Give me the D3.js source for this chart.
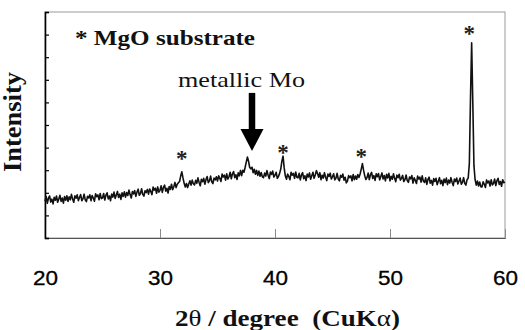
<!DOCTYPE html>
<html><head><meta charset="utf-8">
<script src="https://cdn.jsdelivr.net/npm/d3@7"></script>
<style>html,body{margin:0;padding:0;background:#fff;} svg{display:block;}</style>
</head><body>
<script>
// XRD scan: 2θ from 20° to 60°, step 0.1°
const scanStart = 20, scanStep = 0.1;
const intensity = [
16.3,18.3,15.4,17.6,18.6,15.9,17.2,15.1,18.0,16.7,
18.6,15.8,17.3,18.9,16.2,17.7,15.4,18.3,16.7,18.7,
16.2,18.2,16.9,19.3,17.3,15.8,18.7,17.6,19.1,16.5,
17.9,19.2,16.5,17.3,19.4,16.9,16.1,18.5,17.7,19.1,
16.5,18.8,17.7,16.3,19.6,18.3,19.1,16.9,19.7,17.4,
17.7,19.7,16.8,19.0,20.0,17.3,18.6,16.5,19.4,18.1,
20.3,17.5,19.0,20.6,17.9,19.4,17.1,20.0,18.4,20.4,
18.1,20.1,18.8,21.2,19.2,17.7,20.6,19.5,21.0,18.4,
20.3,21.6,18.9,19.7,21.8,19.3,18.5,20.9,20.1,21.5,
19.4,21.7,20.6,19.2,22.5,21.2,22.0,19.8,22.6,20.3,
21.1,23.1,20.2,22.4,23.4,20.7,22.0,19.9,22.8,21.5,
23.8,21.4,22.7,24.6,22.3,23.8,24.4,25.0,27.4,29.3,
26.6,24.2,22.6,24.1,22.3,23.9,25.3,23.4,25.6,24.0,
23.5,25.5,24.2,26.6,24.6,23.1,26.0,24.9,26.4,23.8,
25.9,27.2,24.5,25.3,27.4,24.9,24.1,26.5,25.7,27.1,
25.2,27.5,26.4,25.0,28.3,27.0,27.8,25.6,28.4,26.1,
27.1,29.1,26.2,28.4,29.4,26.7,28.0,25.9,28.8,27.5,
29.9,27.6,30.0,29.1,31.2,33.6,35.8,34.0,31.2,30.6,
31.3,28.9,30.4,28.2,29.9,27.7,29.6,27.3,29.0,27.1,
26.7,28.7,27.4,29.8,27.8,26.3,29.2,28.1,29.6,27.0,
27.8,29.1,26.4,27.2,28.6,30.5,34.0,36.2,31.0,27.4,
26.0,28.3,27.2,25.8,29.1,27.8,28.6,26.4,29.2,26.9,
26.6,28.6,25.7,27.9,28.9,26.2,27.5,25.4,28.3,27.0,
28.8,26.0,27.5,29.1,26.4,27.9,29.8,28.5,26.9,28.9,
25.8,27.8,26.5,28.9,26.9,25.4,28.3,27.2,28.7,26.1,
27.1,28.4,25.7,26.5,28.6,26.1,25.3,27.7,26.9,28.3,
25.6,26.9,24.4,25.2,27.6,26.7,27.5,25.3,28.1,25.8,
27.4,26.0,28.1,26.8,28.3,30.5,32.9,30.0,27.6,25.9,
26.7,28.7,25.8,28.0,29.0,26.3,27.6,25.5,28.4,27.1,
28.5,25.7,27.2,28.8,26.1,27.6,25.3,28.2,26.6,28.6,
25.3,27.3,26.0,28.4,26.4,24.9,27.8,26.7,28.2,25.6,
26.4,27.7,25.0,25.8,27.9,25.4,24.6,27.0,26.2,27.6,
24.3,26.6,25.5,24.1,27.4,26.1,26.9,24.7,27.5,25.2,
24.6,26.6,23.7,25.9,26.9,24.2,25.5,23.4,26.3,25.0,
26.4,23.6,25.1,26.7,24.0,25.5,23.2,26.1,24.5,26.5,
23.6,25.6,24.3,26.7,24.7,23.2,26.1,25.0,26.5,23.9,
25.2,26.5,23.8,24.6,26.7,24.2,23.4,25.8,26.5,33.0,
62.0,86.4,60.0,32.0,25.8,23.4,25.2,23.0,24.8,22.7,
22.6,24.9,23.8,22.4,25.7,24.4,25.2,23.0,25.8,23.5,
24.1,26.1,23.2,25.4,26.4,23.7,25.0,22.9,25.8,24.5,
24.7
];
const xTicks = [20, 30, 40, 50, 60];
const yTicks = [0, 10, 20, 30, 40, 50, 60, 70, 80, 90, 100];
const starAngles = [31.9, 40.7, 47.5, 56.9];
const starLevels = [36.7, 39.4, 37.6, 92.0];
const arrowAngle = 38.0, arrowTop = 64.2, arrowHeadTop = 48.2, arrowTip = 38.5;

const W = 525, H = 330;
const svg = d3.select("body").append("svg").attr("width", W).attr("height", H);
const x = d3.scaleLinear().domain([20, 60]).range([45, 505]);
const y = d3.scaleLinear().domain([0, 100]).range([238, 12]);

const serif = "'Liberation Serif','Times New Roman',serif";
const sans = "'Liberation Sans',Arial,sans-serif";

// frame (thin gray) top/right/bottom
svg.append("rect").attr("x", x(20)).attr("y", y(100))
  .attr("width", x(60) - x(20)).attr("height", y(0) - y(100))
  .attr("fill", "none").attr("stroke", "#9a9a9a").attr("stroke-width", 1);

// x axis ticks (inside, upward) and labels
const xAxis = svg.append("g").attr("transform", `translate(0,${y(0)})`)
  .call(d3.axisBottom(x).tickValues(xTicks).tickSize(-9).tickPadding(33).tickFormat(d3.format("d")));
xAxis.select(".domain").attr("stroke", "#555").attr("stroke-width", 1);
xAxis.selectAll(".tick line").attr("stroke", "#8a8a8a");
xAxis.selectAll(".tick text").attr("font-family", sans).attr("font-size", 20)
  .attr("fill", "#000").attr("stroke", "#000").attr("stroke-width", 0.3)
  .attr("textLength", 25).attr("lengthAdjust", "spacingAndGlyphs");

// y axis (left, black) with inward ticks, no labels
const yAxis = svg.append("g").attr("transform", `translate(${x(20)},0)`)
  .call(d3.axisLeft(y).tickValues(yTicks).tickSize(-4).tickFormat(""));
yAxis.select(".domain").attr("stroke", "#000").attr("stroke-width", 1.6);
yAxis.selectAll(".tick line").attr("stroke", "#000").attr("stroke-width", 1.2);

// data line
const pts = intensity.map((v, i) => [scanStart + i * scanStep, v]);
svg.append("path").datum(pts)
  .attr("fill", "none").attr("stroke", "#111").attr("stroke-width", 1.6)
  .attr("stroke-linejoin", "round")
  .attr("d", d3.line().x(d => x(d[0])).y(d => y(d[1])));

// asterisks on MgO peaks
svg.selectAll("text.star").data(starAngles).enter().append("text")
  .attr("class", "star")
  .attr("x", d => x(d)).attr("y", (d, i) => y(starLevels[i]) + 11)
  .attr("text-anchor", "middle").attr("font-family", serif)
  .attr("font-weight", "bold").attr("font-size", 23).attr("fill", "#222").text("*");

// legend text
svg.append("text").attr("x", 75).attr("y", 45)
  .attr("font-family", serif).attr("font-weight", "bold").attr("font-size", 22)
  .attr("textLength", 180).attr("lengthAdjust", "spacingAndGlyphs")
  .attr("fill", "#111").text("* MgO substrate");

// metallic Mo annotation
svg.append("text").attr("x", 178).attr("y", 87)
  .attr("font-family", serif).attr("font-size", 21)
  .attr("textLength", 127).attr("lengthAdjust", "spacingAndGlyphs")
  .attr("fill", "#111").text("metallic Mo");

const ax = x(arrowAngle);
svg.append("line").attr("x1", ax).attr("x2", ax)
  .attr("y1", y(arrowTop)).attr("y2", y(arrowHeadTop) + 1)
  .attr("stroke", "#000").attr("stroke-width", 6.5);
svg.append("path")
  .attr("d", `M${ax - 11.5},${y(arrowHeadTop)} L${ax + 11.5},${y(arrowHeadTop)} L${ax},${y(arrowTip)} Z`)
  .attr("fill", "#000");

// y title
svg.append("text").attr("transform", "translate(21,122) rotate(-90)")
  .attr("text-anchor", "middle").attr("font-family", serif).attr("font-weight", "bold")
  .attr("font-size", 25).attr("textLength", 100).attr("lengthAdjust", "spacingAndGlyphs")
  .attr("fill", "#111").text("Intensity");

// x title
const xt = svg.append("text").attr("x", 175).attr("y", 326)
  .attr("font-family", serif).attr("font-weight", "bold").attr("font-size", 24)
  .attr("textLength", 225).attr("lengthAdjust", "spacingAndGlyphs")
  .attr("fill", "#111").style("white-space", "pre");
xt.append("tspan").text("2");
xt.append("tspan").attr("font-weight", "normal").text("θ");
xt.append("tspan").text(" / degree  (CuK");
xt.append("tspan").attr("font-weight", "normal").text("α");
xt.append("tspan").text(")");
</script>
</body></html>
